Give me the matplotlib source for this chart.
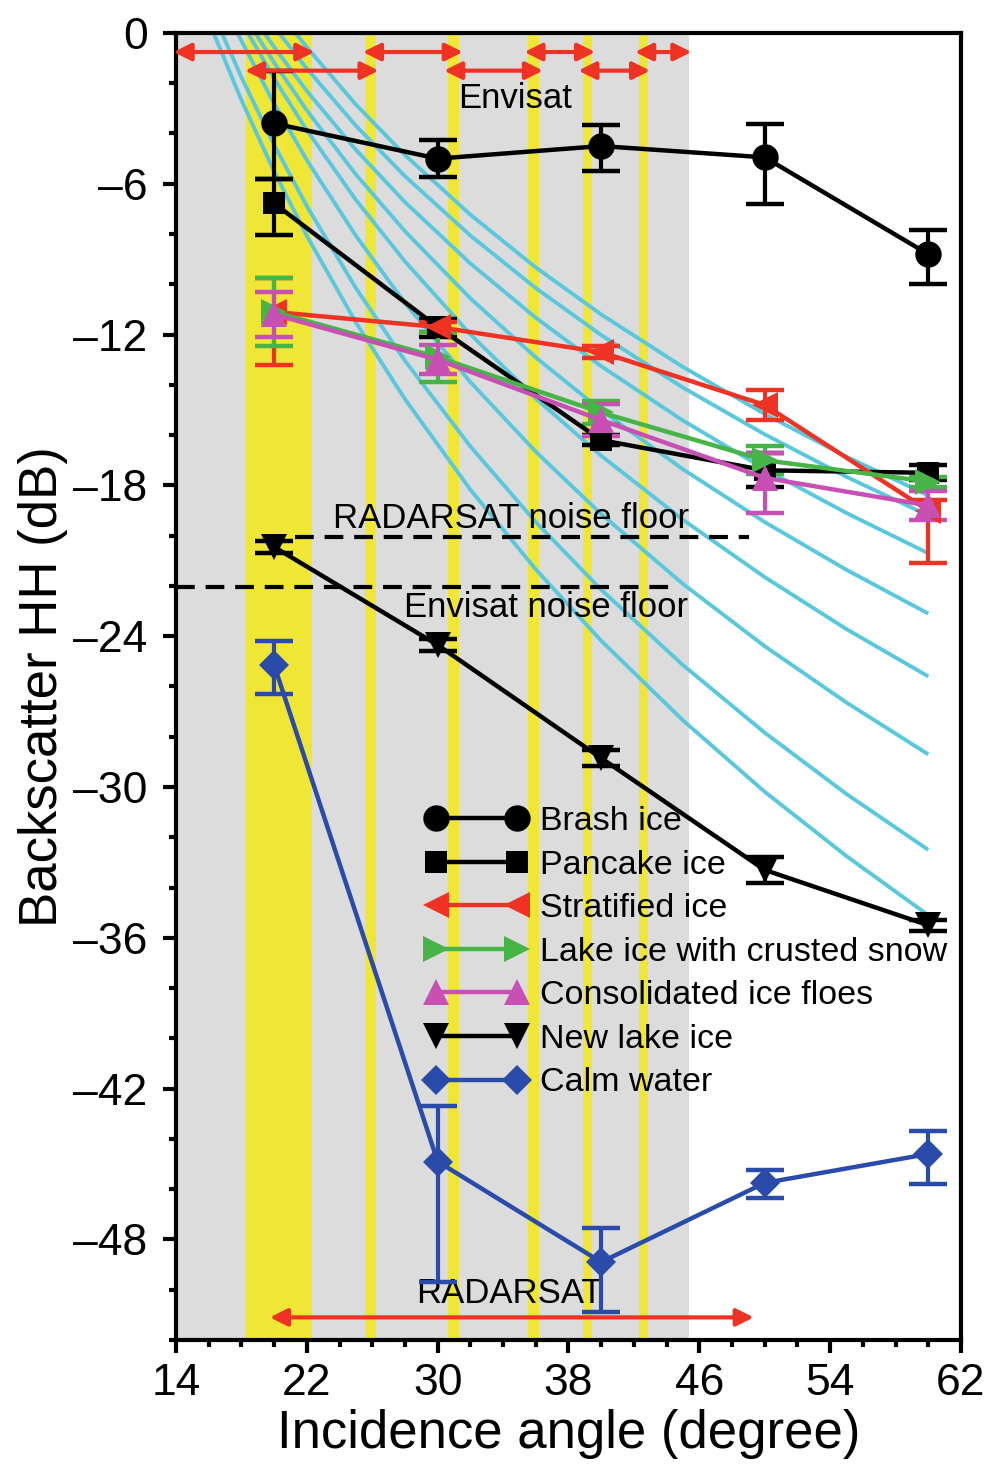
import matplotlib
matplotlib.use('Agg')
import matplotlib.pyplot as plt

plt.rcParams['font.family'] = ['Liberation Sans', 'DejaVu Sans']
plt.rcParams['axes.unicode_minus'] = False

# colours
red = '#EE3224'
green = '#46B446'
magenta = '#C850B4'
blue = '#2A4BAA'
cyan = '#5AC8DC'
yellow = '#F0E636'
gray = '#DCDCDC'

angles = [20, 30, 40, 50, 60]

# backscatter (dB) and error bars (lower, upper)
brash = [-3.6, -5.0, -4.5, -4.95, -8.8]
brash_lo = [2.2, 0.73, 1.0, 1.84, 1.2]
brash_hi = [2.1, 0.73, 0.85, 1.31, 0.96]

pancake = [-6.78, -11.7, -16.2, -17.4, -17.5]
pancake_lo = [1.27, 0.4, 0.2, 0.67, 0.3]
pancake_hi = [0.96, 0.3, 0.2, 0.67, 0.3]

strat = [-11.1, -11.7, -12.7, -14.8, -19.0]
strat_lo = [2.1, 0.2, 0.25, 0.6, 2.1]
strat_hi = [1.37, 0.2, 0.25, 0.6, 0.4]

lake = [-11.1, -12.9, -15.1, -17.0, -17.85]
lake_err = [1.35, 1.0, 0.45, 0.55, 0.2]

consol = [-11.2, -13.0, -15.4, -17.7, -18.8]
consol_lo = [0.88, 0.57, 0.65, 1.4, 0.58]
consol_hi = [0.88, 0.57, 0.65, 1.0, 0.58]

newlake = [-20.45, -24.35, -28.85, -33.3, -35.5]
newlake_err = [0.25, 0.25, 0.33, 0.53, 0.21]

calm = [-25.15, -44.9, -48.9, -45.75, -44.6]
calm_lo = [1.15, 4.8, 2.0, 0.6, 1.2]
calm_hi = [0.95, 2.2, 1.35, 0.5, 0.9]

# cyan curves (angle, dB)
cyan_x = [
    [16.3, 18, 20, 22, 25, 28, 32, 36, 40, 45, 50, 55, 60],
    [16.8, 18, 20, 22, 25, 28, 32, 36, 40, 45, 50, 55, 60],
    [17.75, 20, 22, 25, 28, 32, 36, 40, 45, 50, 55, 60],
    [18.4, 20, 22, 25, 28, 32, 36, 40, 45, 50, 55, 60],
    [18.85, 20, 22, 25, 28, 32, 36, 40, 45, 50, 55, 60],
    [19.4, 20, 22, 25, 28, 32, 36, 40, 45, 50, 55, 60],
    [20.3, 22, 25, 28, 32, 36, 40, 45, 50, 55, 60],
    [21.3, 22, 25, 28, 32, 36, 40, 45, 50, 55, 60],
]
cyan_y = [
    [0, -2.67, -5.51, -8.07, -11.52, -14.57, -18.17, -21.34, -24.18, -27.35, -30.19, -32.75, -35.1],
    [0, -1.76, -4.45, -6.89, -10.15, -13.04, -16.45, -19.46, -22.15, -25.15, -27.84, -30.28, -32.5],
    [0, -2.81, -5.06, -8.07, -10.74, -13.89, -16.66, -19.14, -21.92, -24.40, -26.64, -28.7],
    [0, -1.81, -3.87, -6.64, -9.09, -11.99, -14.54, -16.82, -19.37, -21.65, -23.72, -25.6],
    [0, -1.18, -3.08, -5.63, -7.89, -10.56, -12.91, -15.01, -17.36, -19.46, -21.36, -23.1],
    [0, -0.56, -2.31, -4.65, -6.73, -9.17, -11.33, -13.26, -15.42, -17.35, -19.10, -20.7],
    [0, -1.42, -3.69, -5.70, -8.06, -10.15, -12.02, -14.11, -15.97, -17.66, -19.2],
    [0, -0.57, -2.85, -4.86, -7.23, -9.33, -11.20, -13.29, -15.16, -16.86, -18.4],
]

# Envisat coverage and swath overlaps
gray_span = (14, 45.35)
yellow_bands = [(18.3, 22.3), (25.55, 26.2), (30.62, 31.32), (35.51, 36.21),
                (38.87, 39.44), (42.29, 42.87)]
envisat_row1 = [(13.85, 22.46), (25.43, 31.54), (35.3, 39.63), (42.07, 45.52)]
envisat_row2 = [(18.22, 26.39), (30.39, 36.44), (38.6, 42.99)]
row1_db, row2_db = -0.76, -1.5
radarsat_span = (19.74, 49.33)
radarsat_db = -51.1

radarsat_floor = -20.06
radarsat_floor_span = (21.27, 49.03)
envisat_floor = -22.05
envisat_floor_span = (14, 44.7)

yticks = list(range(-48, 1, 6))
ytick_labels = [str(v).replace('-', '\u2013') for v in yticks]

fig = plt.figure(figsize=(9.91, 14.64), dpi=100)
ax = fig.add_axes([0.1776, 0.0847, 0.7921, 0.8928])

ax.axvspan(gray_span[0], gray_span[1], color=gray, lw=0, zorder=0)
for a, b in yellow_bands:
    ax.axvspan(a, b, color=yellow, lw=0, zorder=0.5)

for xs, ys in zip(cyan_x, cyan_y):
    ax.plot(xs, ys, color=cyan, lw=2.8, zorder=1, solid_capstyle='butt')

ax.plot(radarsat_floor_span, [radarsat_floor] * 2, color='black', lw=3,
        ls=(0, (4.5, 2.6)), zorder=2)
ax.plot(envisat_floor_span, [envisat_floor] * 2, color='black', lw=3,
        ls=(0, (4.5, 2.6)), zorder=2)

def arrow(x0, x1, y):
    ax.annotate('', xy=(x1, y), xytext=(x0, y),
                arrowprops=dict(arrowstyle='<|-|>', color=red, lw=3,
                                mutation_scale=26, shrinkA=0, shrinkB=0),
                zorder=6)

for a, b in envisat_row1:
    arrow(a, b, row1_db)
for a, b in envisat_row2:
    arrow(a, b, row2_db)
arrow(radarsat_span[0], radarsat_span[1], radarsat_db)

ax.text(34.73, -2.6, 'Envisat', fontsize=25, ha='center', va='center')
ax.text(34.48, -19.3, 'RADARSAT noise floor', fontsize=25, ha='center', va='center')
ax.text(36.6, -22.85, 'Envisat noise floor', fontsize=25, ha='center', va='center')
ax.text(34.37, -50.15, 'RADARSAT', fontsize=25, ha='center', va='center')

series = [
    (brash, brash_lo, brash_hi, 'black', 'o', 19, 'Brash ice'),
    (pancake, pancake_lo, pancake_hi, 'black', 's', 16.5, 'Pancake ice'),
    (strat, strat_lo, strat_hi, red, '<', 19, 'Stratified ice'),
    (lake, lake_err, lake_err, green, '>', 19, 'Lake ice with crusted snow'),
    (consol, consol_lo, consol_hi, magenta, '^', 19, 'Consolidated ice floes'),
    (newlake, newlake_err, newlake_err, 'black', 'v', 19, 'New lake ice'),
    (calm, calm_lo, calm_hi, blue, 'D', 15, 'Calm water'),
]
for ys, lo, hi, c, m, ms, lab in series:
    ax.errorbar(angles, ys, yerr=[lo, hi], fmt='none', ecolor=c, elinewidth=3,
                capsize=13.5, capthick=3.2, zorder=4)
    ax.plot(angles, ys, color=c, marker=m, markersize=ms, markeredgewidth=0,
            lw=3.2, label=lab, zorder=5)

ax.set_xlim(14, 62)
ax.set_ylim(-52, 0)
ax.set_xticks([14, 22, 30, 38, 46, 54, 62])
ax.set_xticks(range(14, 63, 2), minor=True)
ax.set_yticks(yticks)
ax.set_yticklabels(ytick_labels)
ax.set_yticks(range(-52, 1, 2), minor=True)

for s in ax.spines.values():
    s.set_linewidth(3)
ax.tick_params(which='major', direction='out', length=9.5, width=3,
               labelsize=32, pad=7)
ax.tick_params(axis='y', which='major', pad=11)
ax.tick_params(which='minor', direction='out', length=5, width=3)
ax.tick_params(top=False, right=False, which='both')

ax.set_xlabel('Incidence angle (degree)', fontsize=38, labelpad=4)
ax.set_ylabel('Backscatter HH (dB)', fontsize=38, labelpad=4)

ax.legend(loc='upper left', bbox_to_anchor=(0.318, 0.4086), frameon=False,
          fontsize=24.5, numpoints=2, handlelength=2.98, handletextpad=0.38,
          labelspacing=0.37, borderpad=0, borderaxespad=0)

fig.savefig('out.png', dpi=100)
